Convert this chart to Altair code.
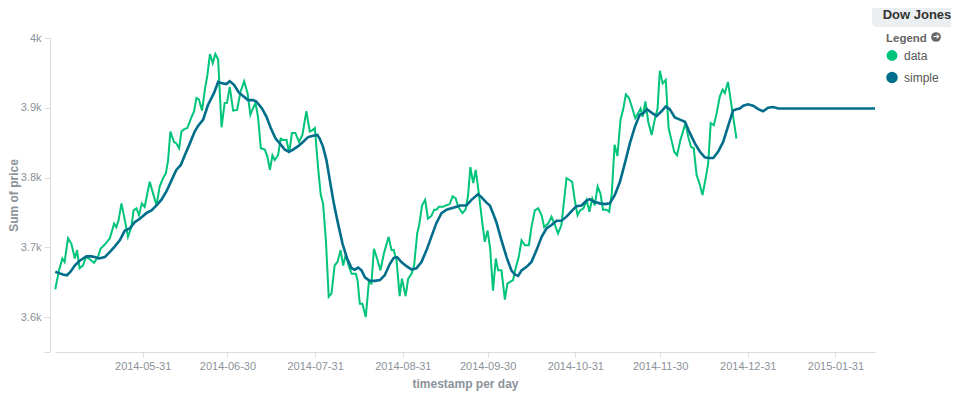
import altair as alt
import pandas as pd

# ---- data (day offset from 2014-04-30, value) ----
base_date = "2014-04-30"

data_days = [
    0.1, 1.4, 2.6, 3.4, 4.6, 5.8, 7.0, 7.8, 8.7, 9.9,
    10.9, 12.0, 13.8, 15.2, 16.1, 17.6, 19.4, 20.9, 21.7, 22.5,
    23.5, 24.7, 25.8, 27.0, 27.8, 28.8, 29.7, 30.7, 31.7, 33.5,
    34.7, 35.9, 37.0, 38.2, 39.2, 40.0, 40.8, 42.1, 42.9, 43.9,
    44.7, 45.6, 46.8, 48.3, 49.2, 50.0, 50.9, 52.0, 53.0, 53.9,
    54.8, 55.8, 56.7, 57.7, 58.9, 60.0, 60.8, 61.8, 63.0, 64.4,
    65.6, 66.9, 68.1, 69.1, 70.0, 70.9, 71.8, 72.8, 74.2, 75.1,
    76.0, 76.9, 77.7, 78.9, 79.8, 80.7, 81.9, 82.8, 83.8, 85.0,
    86.3, 87.5, 88.9, 90.1, 91.1, 91.9, 93.0, 94.0, 94.8, 95.8,
    96.8, 97.8, 98.9, 99.9, 101.0, 101.9, 102.8, 104.0, 104.9, 106.4,
    107.0, 107.8, 108.7, 109.9, 111.0, 111.9, 112.8, 113.9, 115.1, 116.3,
    117.0, 118.0, 119.0, 119.8, 120.8, 121.9, 122.7, 124.0, 124.9, 126.1,
    127.0, 128.1, 128.8, 129.8, 130.9, 131.9, 133.1, 134.1, 134.9, 135.8,
    137.3, 138.2, 139.6, 140.6, 141.7, 142.6, 144.1, 145.2, 146.1, 146.9,
    147.9, 148.8, 149.9, 151.0, 152.0, 153.0, 153.9, 154.9, 155.9, 156.7,
    157.9, 159.1, 160.0, 160.8, 162.0, 163.0, 164.0, 165.0, 166.2, 167.6,
    168.5, 169.7, 170.9, 172.1, 173.0, 174.4, 175.6, 176.8, 177.9, 179.1,
    180.9, 182.9, 183.8, 184.8, 185.7, 186.9, 188.0, 189.0, 190.0, 190.9,
    191.9, 192.9, 193.8, 195.1, 196.0, 196.9, 197.9, 198.9, 200.0, 200.9,
    201.9, 203.0, 204.2, 205.2, 206.2, 207.1, 207.8, 208.8, 209.8, 211.0,
    212.1, 213.1, 213.9, 214.9, 216.0, 217.0, 218.0, 219.0, 220.0, 221.2,
    223.0, 223.9, 224.9, 225.9, 226.9, 228.1, 229.0, 230.2, 231.0, 231.9,
    233.0, 234.0, 235.1, 236.1, 236.9, 238.0, 241.0,
]
data_vals = [
    3640, 3667, 3684, 3679, 3713, 3705, 3684, 3696, 3670, 3674,
    3686, 3684, 3678, 3686, 3698, 3704, 3713, 3734, 3729, 3739,
    3763, 3739, 3715, 3729, 3753, 3756, 3746, 3763, 3758, 3794,
    3777, 3760, 3787, 3799, 3806, 3825, 3866, 3851, 3849, 3842,
    3866, 3869, 3871, 3887, 3895, 3914, 3912, 3896, 3926, 3947,
    3977, 3964, 3977, 3969, 3872, 3907, 3907, 3930, 3896, 3897,
    3923, 3938, 3921, 3890, 3899, 3907, 3887, 3842, 3840, 3830,
    3811, 3832, 3825, 3832, 3856, 3854, 3854, 3835, 3864, 3864,
    3851, 3861, 3895, 3866, 3868, 3871, 3816, 3775, 3763, 3710,
    3629, 3634, 3674, 3679, 3696, 3674, 3689, 3672, 3662, 3662,
    3653, 3619, 3619, 3600, 3650, 3648, 3698, 3684, 3667, 3691,
    3701, 3715, 3696, 3696, 3681, 3630, 3655, 3630, 3655, 3662,
    3674, 3720, 3732, 3760, 3768, 3741, 3745, 3754, 3754, 3758,
    3758, 3760, 3762, 3773, 3770, 3758, 3749, 3754, 3775, 3815,
    3792, 3811, 3777, 3739, 3708, 3724, 3698, 3638, 3684, 3667,
    3667, 3625, 3648, 3650, 3653, 3672, 3686, 3710, 3703, 3703,
    3729, 3753, 3756, 3746, 3729, 3734, 3744, 3732, 3720, 3732,
    3799, 3794, 3768, 3746, 3753, 3756, 3768, 3751, 3770, 3760,
    3787, 3777, 3754, 3754, 3751, 3777, 3847, 3831, 3883, 3897,
    3919, 3914, 3899, 3885, 3892, 3899, 3887, 3909, 3880, 3861,
    3883, 3899, 3953, 3935, 3940, 3871, 3854, 3837, 3832, 3854,
    3878, 3859, 3844, 3842, 3804, 3789, 3775, 3801, 3820, 3878,
    3875, 3892, 3916, 3926, 3921, 3937, 3856,
]

simple_days = [
    0.1, 1.4, 2.8, 4.2, 5.5, 7.0, 8.5, 9.9, 11.1, 12.9,
    14.0, 15.6, 17.6, 19.1, 21.1, 22.9, 24.7, 26.4, 28.2, 30.0,
    32.3, 34.1, 35.9, 37.6, 39.4, 41.2, 42.9, 44.5, 45.9, 47.7,
    49.4, 50.6, 52.4, 54.1, 56.2, 57.7, 59.1, 60.6, 61.8, 63.3,
    65.0, 66.5, 68.3, 70.0, 71.2, 73.2, 74.8, 76.3, 78.0, 79.5,
    81.3, 82.7, 84.2, 86.0, 87.7, 89.5, 91.3, 92.8, 93.6, 94.8,
    96.0, 97.2, 98.6, 100.1, 101.7, 103.3, 104.9, 106.0, 107.2, 108.4,
    109.6, 111.3, 113.1, 114.9, 116.6, 118.4, 119.8, 121.0, 122.5, 124.3,
    126.1, 127.8, 129.6, 131.4, 133.1, 134.9, 136.7, 138.5, 140.2, 142.0,
    143.2, 145.5, 147.3, 149.6, 150.8, 152.6, 153.8, 154.9, 156.1, 157.9,
    159.7, 161.4, 162.6, 163.8, 165.0, 166.8, 168.5, 170.3, 172.1, 173.8,
    175.6, 177.4, 179.1, 180.9, 182.7, 184.4, 186.2, 188.0, 189.1, 190.9,
    192.7, 194.5, 196.2, 198.0, 199.8, 201.5, 203.3, 205.1, 206.8, 208.0,
    209.4, 211.0, 212.7, 214.5, 216.0, 217.4, 219.2, 221.0, 222.8, 224.5,
    226.3, 228.1, 229.8, 231.0, 232.8, 234.5, 236.3, 238.3, 239.8, 241.0,
    242.2, 243.4, 245.1, 246.9, 248.7, 250.4, 252.2, 254.0, 255.8, 257.5,
    259.9, 290.0,
]
simple_vals = [
    3665, 3663, 3661, 3660, 3665, 3674, 3680, 3684, 3687, 3687,
    3686, 3684, 3686, 3692, 3701, 3710, 3724, 3727, 3736, 3741,
    3749, 3753, 3760, 3768, 3780, 3796, 3811, 3818, 3832, 3849,
    3866, 3874, 3883, 3904, 3921, 3937, 3935, 3934, 3938, 3933,
    3922, 3917, 3911, 3911, 3909, 3899, 3887, 3871, 3856, 3849,
    3840, 3837, 3840, 3845, 3851, 3858, 3860, 3861, 3856, 3844,
    3825, 3796, 3763, 3734, 3705, 3684, 3670, 3668, 3671, 3667,
    3657, 3652, 3652, 3653, 3660, 3676, 3685, 3686, 3679, 3673,
    3668, 3670, 3679, 3696, 3715, 3735, 3749, 3754, 3756, 3758,
    3760, 3760, 3768, 3776, 3772, 3764, 3760, 3749, 3736, 3710,
    3686, 3667, 3661, 3659, 3667, 3672, 3679, 3696, 3715, 3727,
    3732, 3738, 3738, 3744, 3752, 3759, 3760, 3767, 3769, 3765,
    3763, 3762, 3763, 3775, 3794, 3820, 3849, 3873, 3890, 3892,
    3898, 3893, 3888, 3895, 3902, 3898, 3886, 3883, 3880, 3864,
    3849, 3837, 3829, 3828, 3828, 3837, 3851, 3877, 3896, 3898,
    3899, 3903, 3905, 3903, 3898, 3895, 3900, 3901, 3899, 3899,
    3899, 3899,
]

series_names = ["data", "simple"]
series_colors = ["#00c47a", "#006e8a"]
series_widths = [2.0, 2.6]

x_tick_dates = [(2014, 5, 31), (2014, 6, 30), (2014, 7, 31), (2014, 8, 31),
                (2014, 9, 30), (2014, 10, 31), (2014, 11, 30), (2014, 12, 31),
                (2015, 1, 31)]
x_domain = [(2014, 4, 30), (2015, 2, 14)]
y_ticks = [3550, 3600, 3700, 3800, 3900, 4000]
y_domain = [3550, 4000]

# ---- build table ----
start = pd.Timestamp(base_date)


def iso(d):
    return (start + pd.Timedelta(days=d)).strftime("%Y-%m-%dT%H:%M:%SZ")


rows = []
for d, v in zip(data_days, data_vals):
    rows.append({"ts": iso(d), "price": v, "series": "data"})
for d, v in zip(simple_days, simple_vals):
    rows.append({"ts": iso(d), "price": v, "series": "simple"})
df = pd.DataFrame(rows)


def dt(t):
    return alt.DateTime(year=t[0], month=t[1], date=t[2], utc=True)


FONT = "Liberation Sans"
GREY = "#8b9299"
AXISC = "#dcdcdc"

fill_expr = "datum.value === '%s' ? '%s' : '%s'" % (
    series_names[0], series_colors[0], series_colors[1])

lines = alt.Chart(df).mark_line(interpolate="linear").encode(
    x=alt.X(
        "ts:T",
        scale=alt.Scale(type="utc", domain=[dt(t) for t in x_domain], nice=False),
        axis=alt.Axis(
            values=[dt(t) for t in x_tick_dates], format="%Y-%m-%d",
            title="timestamp per day", grid=False, domainColor=AXISC, tickColor=AXISC,
            tickSize=5, labelPadding=3, labelFont=FONT, labelFontSize=11,
            labelColor=GREY, labelOverlap=False, labelFlush=False,
            titleFont=FONT, titleFontSize=12, titleFontWeight="bold", titleColor=GREY,
            titleY=31, titleBaseline="middle",
        ),
    ),
    y=alt.Y(
        "price:Q",
        scale=alt.Scale(domain=y_domain, zero=False, nice=False),
        axis=alt.Axis(
            values=y_ticks,
            labelExpr="datum.value == 3550 ? '' : (datum.value / 1000) + 'k'",
            title="Sum of price", grid=False, offset=5, domainColor=AXISC,
            tickColor=AXISC, tickSize=6, labelPadding=3, labelFont=FONT,
            labelFontSize=11, labelColor=GREY,
            titleFont=FONT, titleFontSize=12, titleFontWeight="bold", titleColor=GREY,
            titleX=-37, titleY=157, titleAngle=270, titleBaseline="middle",
            titleAlign="center",
        ),
    ),
    color=alt.Color(
        "series:N",
        scale=alt.Scale(domain=series_names, range=series_colors),
        legend=alt.Legend(
            title="Legend", orient="none", legendX=831, legendY=-5,
            symbolType="circle", symbolSize=80, symbolStrokeWidth=0,
            symbolFillColor=alt.ExprRef(expr=fill_expr),
            symbolOpacity=1, labelFont=FONT, labelFontSize=12, labelColor="#555",
            titleFont=FONT, titleFontSize=11.5, titleFontWeight="bold",
            titleColor="#666", rowPadding=3, labelOffset=6, padding=0,
            titlePadding=5,
        ),
    ),
    strokeWidth=alt.StrokeWidth(
        "series:N", scale=alt.Scale(domain=series_names, range=series_widths),
        legend=None,
    ),
)

hdr = pd.DataFrame({"t": ["Dow Jones"], "icon": ["\u279c"]})
header_bg = alt.Chart(hdr).mark_rect(
    color="#eceff1", cornerRadiusBottomLeft=4
).encode(x=alt.value(817), x2=alt.value(900), y=alt.value(-30), y2=alt.value(-11))
header_tx = alt.Chart(hdr).mark_text(
    font=FONT, fontSize=13, fontWeight="bold", color="#333", align="center",
    baseline="middle",
).encode(x=alt.value(862), y=alt.value(-23), text="t:N")
icon_bg = alt.Chart(hdr).mark_point(
    filled=True, shape="circle", size=95, color="#666", opacity=1
).encode(x=alt.value(881), y=alt.value(-1))
icon_tx = alt.Chart(hdr).mark_text(
    fontSize=8, color="white", align="center", baseline="middle", font="DejaVu Sans"
).encode(x=alt.value(881.3), y=alt.value(-1), text="icon:N")

chart = alt.layer(lines, header_bg, header_tx, icon_bg, icon_tx).properties(
    width=820, height=314,
    autosize=alt.AutoSizeParams(type="none"),
    padding={"left": 47, "top": 30, "right": 76, "bottom": 39},
).configure_view(stroke=None)

chart.save("out.html", embed_options={"renderer": "svg", "actions": False})
